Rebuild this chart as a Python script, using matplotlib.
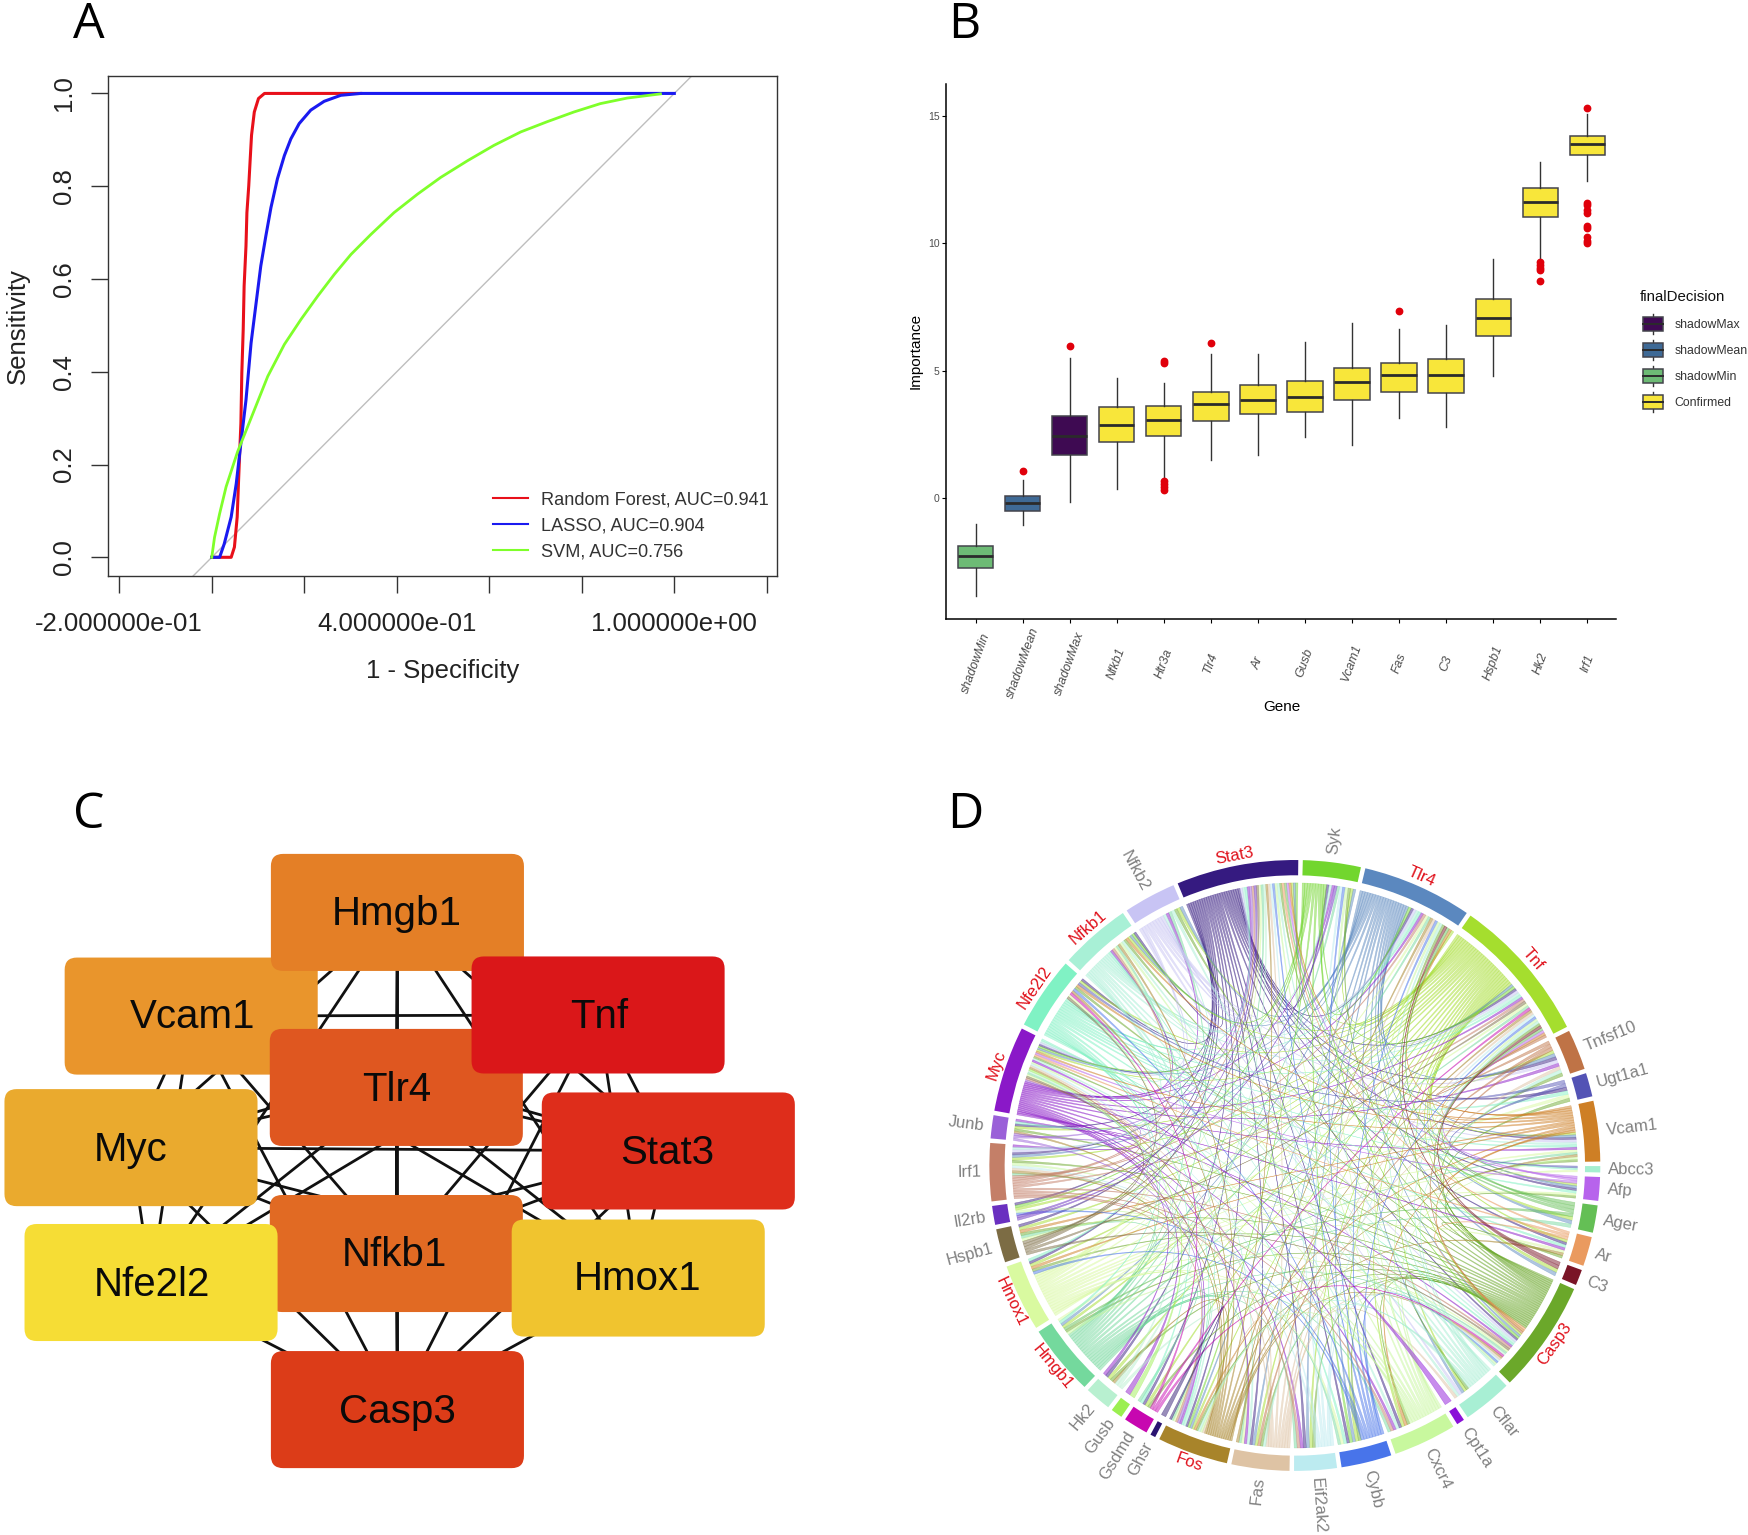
from itertools import combinations

import matplotlib

matplotlib.use("Agg")

import matplotlib.pyplot as plt
import numpy as np
from matplotlib.lines import Line2D
from matplotlib.patches import FancyBboxPatch, Polygon, Rectangle, Wedge

plt.rcParams["font.family"] = ["Liberation Sans", "DejaVu Sans"]

# canvas units: layout was measured on a 1568 x 1377 view of the figure
CANVAS_W, CANVAS_H = 1568, 1377

# panel A: ROC curves
rf_x = [0, .042, .049, .055, .058, .063, .065, .068, .070, .074, .076, .080, .083, .086, .092, .101, .114, .322]
rf_y = [0, 0, .022, .087, .166, .289, .397, .491, .585, .671, .743, .801, .856, .910, .960, .989, 1, 1]
lasso_x = [0, .017, .027, .042, .053, .063, .074, .085, .096, .106, .117, .128, .142, .157, .171, .189, .214,
           .243, .279, .322, 1]
lasso_y = [0, 0, .029, .087, .159, .246, .339, .462, .549, .628, .693, .754, .816, .866, .902, .935, .964,
           .983, .996, 1, 1]
svm_x = [0, .006, .017, .031, .056, .085, .121, .157, .193, .229, .265, .301, .344, .394, .445, .495, .553,
         .610, .668, .725, .783, .840, .898, .970]
svm_y = [0, .043, .094, .152, .228, .300, .390, .459, .513, .563, .610, .653, .696, .743, .783, .819, .855,
         .888, .917, .939, .960, .978, .990, .999]
roc_ticks = [-0.2, 0, 0.2, 0.4, 0.6, 0.8, 1.0, 1.2]
roc_tick_labels = ["-2.000000e-01", "", "", "4.000000e-01", "", "", "1.000000e+00", ""]

# panel B: importance boxplots
box_genes = ["shadowMin", "shadowMean", "shadowMax", "Nfkb1", "Htr3a", "Tlr4", "Ar",
             "Gusb", "Vcam1", "Fas", "C3", "Hspb1", "Hk2", "Irf1"]
box_q1 = [-2.73, -0.48, 1.69, 2.23, 2.45, 3.02, 3.31, 3.39, 3.84, 4.16, 4.12, 6.36, 11.03, 13.45]
box_med = [-2.27, -0.19, 2.44, 2.86, 3.07, 3.70, 3.87, 3.97, 4.57, 4.82, 4.82, 7.07, 11.64, 13.92]
box_q3 = [-1.87, 0.09, 3.22, 3.58, 3.61, 4.18, 4.45, 4.60, 5.10, 5.30, 5.47, 7.81, 12.19, 14.20]
box_lo = [-3.82, -1.06, -0.14, 0.37, 0.85, 1.50, 1.70, 2.39, 2.10, 3.14, 2.78, 4.81, 9.34, 12.45]
box_hi = [-1.02, 0.72, 5.49, 4.72, 4.53, 5.66, 5.66, 6.14, 6.89, 6.65, 6.82, 9.39, 13.19, 15.08]
box_out = [[], [1.09], [5.98], [], [5.3, 5.4, 0.68, 0.55, 0.43, 0.34], [6.08], [], [], [], [7.36], [], [],
           [9.29, 9.17, 9.03, 8.95, 8.52],
           [15.31, 11.6, 11.5, 11.3, 11.2, 10.7, 10.6, 10.25, 10.1, 10.0]]
decision_names = ["shadowMax", "shadowMean", "shadowMin", "Confirmed"]
decision_colors = ["#3E0A52", "#3F6A96", "#6DBB75", "#F8E63A"]
box_decision = ["shadowMin", "shadowMean", "shadowMax"] + ["Confirmed"] * 11

# panel C: hub network
node_names = ["Hmgb1", "Vcam1", "Tlr4", "Tnf", "Myc", "Stat3", "Nfkb1", "Hmox1", "Nfe2l2", "Casp3"]
node_left = [243, 58, 242, 423, 4, 486, 242, 459, 22, 243]
node_top = [766, 859, 923, 858, 977, 980, 1072, 1094, 1098, 1212]
node_colors = ["#E47F26", "#E9952C", "#DF5720", "#DA1719", "#EAAA2E", "#DE2D1B",
               "#E16A23", "#F0C42F", "#F6DD35", "#DC3C18"]
node_label_dx = [-1, 1, 0, 1, 0, -1, -2, -1, 1, 0]
node_label_dy = [1, 1, 2, 2, 2, 2, 1, 1, 2, 2]
node_draw_order = [1, 0, 2, 3, 4, 5, 6, 7, 8, 9]
NODE_W, NODE_H = 227, 105

# panel D: chord diagram, clockwise from the top
sector_names = ["Syk", "Tlr4", "Tnf", "Tnfsf10", "Ugt1a1", "Vcam1", "Abcc3", "Afp", "Ager", "Ar", "C3",
                "Casp3", "Cflar", "Cpt1a", "Cxcr4", "Cybb", "Eif2ak2", "Fas", "Fos", "Ghsr", "Gsdmd",
                "Gusb", "Hk2", "Hmgb1", "Hmox1", "Hspb1", "Il2rb", "Irf1", "Junb", "Myc", "Nfe2l2",
                "Nfkb1", "Nfkb2", "Stat3"]
sector_widths = [11, 20.9, 27.9, 7.7, 4.5, 11.5, 1.2, 4.5, 5.2, 5.6, 3, 21.4, 9.4, 1.5, 12, 9.6, 8.1, 11,
                 13.5, 1, 4.7, 2.2, 5, 13.5, 12.8, 6.4, 3.6, 11, 4.4, 16.3, 13.9, 13.5, 10, 23.2]
sector_colors = ["#72D62E", "#5B88BF", "#A5DE2E", "#BF7346", "#5353B5", "#CE7F25", "#A5EFD0", "#B763EC",
                 "#64BF55", "#EA9A5F", "#7A1527", "#6BA82A", "#A8EFD4", "#8A10D8", "#C8F89E", "#4874EA",
                 "#BCEBF0", "#DEC3A4", "#A8842A", "#2B1470", "#C707B0", "#9BEF50", "#B8F0D0", "#74D99D",
                 "#D9FAA0", "#7C6C44", "#6A30C0", "#C47F68", "#9A60D8", "#8A18C8", "#80F2C4", "#A8F0D6",
                 "#C8C4F4", "#351A80"]
hub_genes = ["Stat3", "Tlr4", "Tnf", "Casp3", "Fos", "Hmgb1", "Hmox1", "Myc", "Nfe2l2", "Nfkb1"]

links_stat3 = ("Tnf Tlr4 Casp3 Fos Myc Irf1 Syk Vcam1 Hk2 Ar Tnfsf10 Fas Il2rb Junb Cybb Cxcr4 Afp Hspb1 "
               "Nfe2l2 Nfkb1 Hmox1 Eif2ak2 Gsdmd Ugt1a1").split()
links_tnf = ("Stat3 Tlr4 Casp3 Myc Nfkb1 Nfkb2 Irf1 Fas Fos Vcam1 Tnfsf10 Syk Ar Hspb1 Cybb Eif2ak2 Gsdmd C3 "
             "Hmgb1 Hmox1 Nfe2l2 Cxcr4 Cflar Junb Il2rb Ager Hk2 Afp").split()
links_tlr4 = ("Stat3 Tnf Syk Myc Nfkb1 Nfkb2 Irf1 Fos Cybb Tnfsf10 Afp Ager Casp3 Hmgb1 Vcam1 Cflar Eif2ak2 "
              "C3 Fas").split()
links_casp3 = ("Stat3 Tnf Tlr4 Fas Fos Myc Nfe2l2 Nfkb1 Hspb1 Syk Irf1 Eif2ak2 Tnfsf10 Ar Gsdmd Hk2 Nfkb2 "
               "Vcam1 Hmgb1 Hmox1 Cflar Cybb Cxcr4 Junb Ugt1a1 Afp").split()
links_hmgb1 = "Stat3 Tnf Tlr4 Casp3 Myc Nfkb1 Syk Fos Fas Ager Cybb Cxcr4 Vcam1 Irf1 Nfkb2 Eif2ak2 Hspb1 Gsdmd".split()
links_hmox1 = "Stat3 Tnf Tlr4 Nfe2l2 Casp3 Fos Fas Myc Cybb Ugt1a1 Afp Abcc3 Hmgb1 Vcam1 Nfkb1 Ar Hspb1".split()
links_myc = "Stat3 Tnf Tlr4 Casp3 Nfkb2 Fos Junb Hk2 Eif2ak2 Ar Tnfsf10 Gusb Nfkb1 Irf1 Cxcr4 Fas Syk Vcam1".split()
links_nfe2l2 = "Stat3 Tnf Tlr4 Myc Casp3 Hmox1 Ugt1a1 Abcc3 Gsdmd Nfkb1 Vcam1 Ar Fos Cybb Hmgb1 Afp Junb".split()
links_nfkb1 = "Stat3 Tnf Tlr4 Casp3 Myc Vcam1 Nfkb2 Syk Cflar Irf1 Fos Fas Cxcr4".split()
links_nfkb2 = "Tnf Tlr4 Stat3 Tnfsf10 Cflar Vcam1 Myc Casp3 Irf1".split()
links_syk = "Tnf Stat3 Tlr4 Cybb Il2rb Nfkb1 Casp3 Fos Myc".split()
links_vcam1 = "Tnf Tlr4 Stat3 Cxcr4 Nfkb1 Myc Fos Hspb1 Casp3 Nfe2l2 Hmox1".split()
links_fos = "Stat3 Tnf Myc Junb Irf1 Casp3 Nfkb1 Ar Hk2 Fas Tlr4 Vcam1 Nfe2l2".split()
links_fas = "Tnf Stat3 Tlr4 Casp3 Cflar Myc Fos Irf1 Tnfsf10".split()
links_eif2ak2 = "Tnf Stat3 Irf1 Syk Casp3 Myc".split()
links_cybb = "Tnf Tlr4 Stat3 Syk Nfe2l2 Hmox1 Casp3 Il2rb".split()
links_cxcr4 = "Stat3 Tnf Tlr4 Myc Nfkb1 Fos Vcam1 Syk Irf1 Casp3 Hmgb1 Il2rb".split()
links_cflar = "Tnf Stat3 Casp3 Nfkb1 Fas Myc Tlr4 Tnfsf10 Fos Nfkb2".split()
links_irf1 = "Tnf Stat3 Tlr4 Eif2ak2 Myc Fos Nfkb1 Casp3 Cxcr4".split()
links_hspb1 = "Tnf Casp3 Stat3 Nfe2l2 Myc".split()
links_tnfsf10 = "Fas Casp3 Tnf".split()
links_ugt1a1 = "Nfe2l2 Abcc3".split()
links_afp = "Tnf Myc Stat3".split()
links_ager = "Hmgb1 Tnf Tlr4 Stat3".split()
links_ar = "Stat3 Myc Casp3".split()
links_c3 = "Tlr4 Tnf".split()
links_junb = "Fos Myc Stat3".split()
links_il2rb = "Stat3 Syk".split()
links_hk2 = "Myc Stat3 Casp3".split()
links_gsdmd = "Casp3 Tnf Nfe2l2".split()
links_ghsr = "Fos".split()
links_gusb = "Myc".split()
links_cpt1a = "Myc".split()

outgoing = {
    "Stat3": links_stat3, "Tnf": links_tnf, "Tlr4": links_tlr4, "Casp3": links_casp3,
    "Hmgb1": links_hmgb1, "Hmox1": links_hmox1, "Myc": links_myc, "Nfe2l2": links_nfe2l2,
    "Nfkb1": links_nfkb1, "Nfkb2": links_nfkb2, "Syk": links_syk, "Vcam1": links_vcam1,
    "Fos": links_fos, "Fas": links_fas, "Eif2ak2": links_eif2ak2, "Cybb": links_cybb,
    "Cxcr4": links_cxcr4, "Cflar": links_cflar, "Irf1": links_irf1, "Hspb1": links_hspb1,
    "Tnfsf10": links_tnfsf10, "Ugt1a1": links_ugt1a1, "Afp": links_afp, "Ager": links_ager,
    "Ar": links_ar, "C3": links_c3, "Junb": links_junb, "Il2rb": links_il2rb, "Hk2": links_hk2,
    "Gsdmd": links_gsdmd, "Ghsr": links_ghsr, "Gusb": links_gusb, "Cpt1a": links_cpt1a,
}


def canvas_axes(figure, left, top, right, bottom):
    return figure.add_axes([left / CANVAS_W, 1 - bottom / CANVAS_H,
                            (right - left) / CANVAS_W, (bottom - top) / CANVAS_H])


def draw_roc(axis):
    axis.plot([-0.5, 1.5], [-0.5, 1.5], color="#BEBEBE", linewidth=1)
    axis.plot(rf_x, rf_y, color="#E8101A", linewidth=2.2)
    axis.plot(lasso_x, lasso_y, color="#1A1AF0", linewidth=2.2)
    axis.plot(svm_x, svm_y, color="#7FFF2A", linewidth=2.0)
    axis.set_xlim(-0.224, 1.222)
    axis.set_ylim(-0.041, 1.038)
    axis.set_xticks(roc_ticks, roc_tick_labels, fontsize=18.5, color="#222222")
    axis.set_yticks([0, 0.2, 0.4, 0.6, 0.8, 1.0], ["0.0", "0.2", "0.4", "0.6", "0.8", "1.0"],
                    fontsize=18.5, rotation=90, va="center", color="#222222")
    axis.tick_params(axis="x", length=12, width=1, color="#333333", pad=14)
    axis.tick_params(axis="y", length=12, width=1, color="#333333", pad=11)
    axis.set_xlabel("1 - Specificity", fontsize=18.5, labelpad=16, color="#222222")
    axis.set_ylabel("Sensitivity", fontsize=18.5, labelpad=16, color="#222222")
    for spine in axis.spines.values():
        spine.set_linewidth(1)
        spine.set_color("#333333")
    handles = [Line2D([], [], color=c, linewidth=1.5) for c in ("#E8101A", "#1A1AF0", "#7FFF2A")]
    axis.legend(handles, ["Random Forest, AUC=0.941", "LASSO, AUC=0.904", "SVM, AUC=0.756"],
                loc="lower right", bbox_to_anchor=(0.988, 0.032), frameon=False, fontsize=13.1,
                labelspacing=0.5, handlelength=1.9, handletextpad=0.75, borderaxespad=0, borderpad=0,
                labelcolor="#333333")


def draw_boxes(axis):
    stats = [
        {"label": gene, "q1": q1, "med": med, "q3": q3, "whislo": lo, "whishi": hi, "fliers": out}
        for gene, q1, med, q3, lo, hi, out in zip(box_genes, box_q1, box_med, box_q3, box_lo, box_hi, box_out)
    ]
    artists = axis.bxp(
        stats,
        positions=range(1, 15),
        widths=0.75,
        patch_artist=True,
        showcaps=False,
        boxprops={"edgecolor": "#44444C", "linewidth": 1.1},
        whiskerprops={"color": "#333333", "linewidth": 1},
        medianprops={"color": "#2B2B2B", "linewidth": 2},
        flierprops={"marker": "o", "markerfacecolor": "#E0000B", "markeredgecolor": "#E0000B", "markersize": 4.6},
    )
    for patch, decision in zip(artists["boxes"], box_decision):
        patch.set_facecolor(decision_colors[decision_names.index(decision)])
    axis.set_xlim(0.38, 14.62)
    axis.set_ylim(-4.72, 16.27)
    axis.set_yticks([0, 5, 10, 15])
    axis.tick_params(axis="y", labelsize=7.5, labelcolor="#4D4D4D", length=3, pad=2)
    axis.tick_params(axis="x", length=3, pad=29)
    plt.setp(axis.get_xticklabels(), rotation=70, fontsize=9, color="#4D4D4D", fontstyle="italic",
             ha="center", va="center")
    axis.set_xlabel("Gene", fontsize=11, labelpad=0)
    axis.set_ylabel("Importance", fontsize=11, labelpad=4)
    axis.spines[["top", "right"]].set_visible(False)
    axis.spines[["left", "bottom"]].set_linewidth(1.1)


def draw_box_legend(canvas):
    canvas.text(1471, 266, "finalDecision", fontsize=10.8, va="center", color="#111111")
    for row, (name, color) in enumerate(zip(decision_names, decision_colors)):
        y = 290.5 + row * 23.3
        canvas.plot([1483, 1483], [y - 9, y + 9], color="#333333", linewidth=1, zorder=2)
        canvas.add_patch(Rectangle((1474, y - 6.5), 18, 13, facecolor=color, edgecolor="#44444C",
                                   linewidth=1.1, zorder=3))
        canvas.plot([1474, 1492], [y, y], color="#2B2B2B", linewidth=1.4, zorder=4)
        canvas.text(1502, y + 1, name, fontsize=8.8, va="center", color="#333333")


def draw_network(canvas):
    centers = [(x + NODE_W / 2, y + NODE_H / 2) for x, y in zip(node_left, node_top)]
    for (x0, y0), (x1, y1) in combinations(centers, 2):
        canvas.plot([x0, x1], [y0, y1], color="#111111", linewidth=2, zorder=2)
    for rank, index in enumerate(node_draw_order):
        canvas.add_patch(FancyBboxPatch(
            (node_left[index], node_top[index]), NODE_W, NODE_H,
            boxstyle="round,pad=0,rounding_size=11",
            facecolor=node_colors[index], edgecolor="none", zorder=3 + rank * 0.01,
        ))
        canvas.text(centers[index][0] + node_label_dx[index], centers[index][1] + node_label_dy[index],
                    node_names[index], fontsize=29, ha="center", va="center", color="#0A0A0A", zorder=4)


def draw_chords(canvas, cx=1161.5, cy=1045.5, radius=274.0):
    gap = (360 - sum(sector_widths)) / len(sector_widths)
    starts = {}
    angle = 1.5
    for name, width in zip(sector_names, sector_widths):
        starts[name] = angle
        angle += width + gap
    widths = dict(zip(sector_names, sector_widths))
    colors = dict(zip(sector_names, sector_colors))

    def point(theta, r):
        rad = np.radians(theta)
        return np.array([cx + r * np.sin(rad), cy - r * np.cos(rad)])

    # ends of each sector: outgoing ribbons first clockwise, then incoming ones
    out_ends = {name: [] for name in sector_names}
    in_ends = {name: [] for name in sector_names}
    links = []
    for source, targets in outgoing.items():
        for target in targets:
            link = {"source": source, "target": target}
            links.append(link)
            out_ends[source].append(link)
            in_ends[target].append(link)

    def mid(name):
        return starts[name] + widths[name] / 2

    for name in sector_names:
        unit = widths[name] / max(len(out_ends[name]) + len(in_ends[name]), 1)
        pos = starts[name]
        out_sorted = sorted(out_ends[name], key=lambda l: -((mid(l["target"]) - mid(name)) % 360))
        in_sorted = sorted(in_ends[name], key=lambda l: -((mid(l["source"]) - mid(name)) % 360))
        for link in out_sorted:
            link["a"] = (pos, pos + unit * 0.97)
            pos += unit
        for link in in_sorted:
            link["b"] = (pos, pos + unit * 0.97)
            pos += unit

    inner = radius * 0.925
    t = np.linspace(0, 1, 41)[:, None]
    squeeze = 0.10 + 0.90 * np.abs(2 * t - 1) ** 2.6
    for link in links:
        a0, a1 = link["a"]
        b0, b1 = link["b"]
        a_mid, b_mid = (a0 + a1) / 2, (b0 + b1) / 2
        delta = ((b_mid - a_mid + 180) % 360) - 180
        ctrl = point(a_mid + delta / 2, inner * 0.12 * np.cos(np.radians(delta / 2)))
        edge_one = (1 - t) ** 2 * point(a1, inner) + 2 * t * (1 - t) * ctrl + t ** 2 * point(b0, inner)
        edge_two = (1 - t) ** 2 * point(a0, inner) + 2 * t * (1 - t) * ctrl + t ** 2 * point(b1, inner)
        center = (edge_one + edge_two) / 2
        side_one = center + (edge_one - center) * squeeze
        side_two = center + (edge_two - center) * squeeze
        canvas.add_patch(Polygon(np.vstack([side_one, side_two[::-1]]), closed=True,
                                 facecolor=colors[link["source"]], edgecolor=colors[link["source"]],
                                 linewidth=0.35, alpha=0.48, zorder=2))

    # y axis of the canvas is inverted, so wedge angles run clockwise from +x
    for name, color in zip(sector_names, sector_colors):
        start = starts[name]
        canvas.add_patch(Wedge((cx, cy), radius, start - 90, start + widths[name] - 90, width=radius * 0.05,
                               facecolor=color, edgecolor="none", zorder=3))
        theta = (start + widths[name] / 2) % 360
        if name in hub_genes:
            x, y = point(theta, radius * 1.032)
            rotation = 180 - theta if 90 < theta < 270 else -theta
            canvas.text(x, y, name, fontsize=12, color="#E0101A", ha="center", va="center",
                        rotation=rotation, rotation_mode="anchor", zorder=4)
        else:
            x, y = point(theta, radius * 1.026)
            rotation = 90 - theta if theta < 180 else 270 - theta
            canvas.text(x, y, name, fontsize=12, color="#808080", ha="left" if theta < 180 else "right",
                        va="center", rotation=rotation, rotation_mode="anchor", zorder=4)


def main():
    figure = plt.figure(figsize=(17.48, 15.35), dpi=100, facecolor="white")

    canvas = figure.add_axes([0, 0, 1, 1])
    canvas.set_xlim(0, CANVAS_W)
    canvas.set_ylim(CANVAS_H, 0)
    canvas.axis("off")

    for letter, x, y in (("A", 80, 23), ("B", 865, 23), ("C", 80, 731), ("D", 866, 731)):
        canvas.text(x, y, letter, fontsize=36, family="Open Sans", ha="center", va="center", color="black")

    draw_roc(canvas_axes(figure, 97, 68, 697, 517))
    draw_boxes(canvas_axes(figure, 849, 75, 1450, 555))
    draw_box_legend(canvas)
    draw_network(canvas)
    draw_chords(canvas)

    figure.savefig("out.png", dpi=100)
    plt.close(figure)


if __name__ == "__main__":
    main()
